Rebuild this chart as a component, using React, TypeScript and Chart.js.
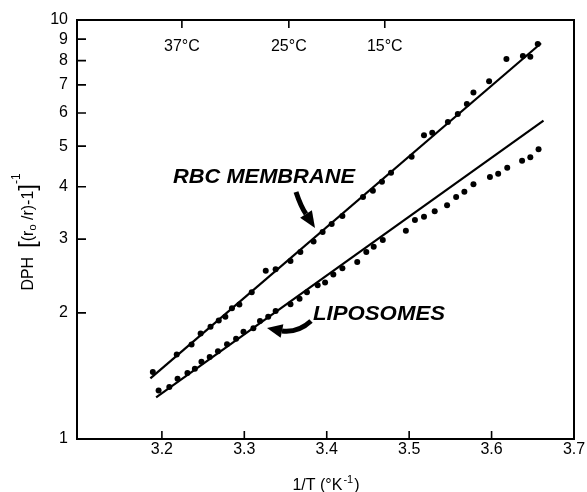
import React, { useEffect, useRef } from "react";
import { Chart, registerables } from "chart.js";

Chart.register(...registerables);

// ---- data ----
const rbcX = [3.189, 3.218, 3.236, 3.247, 3.259, 3.269, 3.277, 3.285, 3.294, 3.309, 3.326, 3.338, 3.356, 3.368, 3.384, 3.395, 3.406, 3.419, 3.444, 3.456, 3.467, 3.478, 3.503, 3.518, 3.528, 3.547, 3.559, 3.570, 3.578, 3.597, 3.618, 3.638, 3.647, 3.656];
const rbcY = [1.445, 1.591, 1.681, 1.786, 1.854, 1.918, 1.958, 2.051, 2.094, 2.239, 2.522, 2.541, 2.660, 2.795, 2.961, 3.119, 3.260, 3.406, 3.781, 3.914, 4.113, 4.322, 4.717, 5.306, 5.383, 5.709, 5.966, 6.303, 6.714, 7.144, 8.071, 8.206, 8.175, 8.762];

const lipoX = [3.196, 3.209, 3.219, 3.231, 3.240, 3.248, 3.258, 3.268, 3.279, 3.290, 3.299, 3.311, 3.319, 3.329, 3.338, 3.356, 3.367, 3.376, 3.389, 3.398, 3.408, 3.419, 3.437, 3.448, 3.457, 3.468, 3.496, 3.507, 3.518, 3.531, 3.546, 3.557, 3.567, 3.578, 3.598, 3.608, 3.619, 3.637, 3.647, 3.657];
const lipoY = [1.305, 1.331, 1.393, 1.437, 1.471, 1.529, 1.569, 1.620, 1.683, 1.734, 1.804, 1.838, 1.912, 1.958, 2.021, 2.097, 2.162, 2.240, 2.327, 2.363, 2.470, 2.555, 2.645, 2.795, 2.875, 2.985, 3.142, 3.332, 3.393, 3.495, 3.612, 3.781, 3.893, 4.055, 4.220, 4.295, 4.442, 4.615, 4.702, 4.916];

const rbcFitX = [3.186, 3.660];
const rbcFitY = [1.396, 8.80];
const lipoFitX = [3.193, 3.663];
const lipoFitY = [1.257, 5.75];

const xTicks = [3.2, 3.3, 3.4, 3.5, 3.6, 3.7];
const yTicks = [1, 2, 3, 4, 5, 6, 7, 8, 9, 10];
const tempC = [37, 25, 15];
const tempLabels = ["37°C", "25°C", "15°C"];
const seriesLabels = ["RBC MEMBRANE", "LIPOSOMES"];

const FONT = "Liberation Sans, Arial, sans-serif";

function drawArrow(ctx: CanvasRenderingContext2D, s: number[], c: number[], e: number[], tip: number[], w: number, hw: number) {
  ctx.save();
  ctx.strokeStyle = "#000";
  ctx.fillStyle = "#000";
  ctx.lineWidth = w;
  ctx.lineCap = "butt";
  ctx.beginPath();
  ctx.moveTo(s[0], s[1]);
  ctx.quadraticCurveTo(c[0], c[1], e[0], e[1]);
  ctx.stroke();
  const dx = tip[0] - e[0];
  const dy = tip[1] - e[1];
  const len = Math.hypot(dx, dy);
  const nx = -dy / len;
  const ny = dx / len;
  ctx.beginPath();
  ctx.moveTo(tip[0], tip[1]);
  ctx.lineTo(e[0] + nx * hw, e[1] + ny * hw);
  ctx.lineTo(e[0] - nx * hw, e[1] - ny * hw);
  ctx.closePath();
  ctx.fill();
  ctx.restore();
}

function fitText(ctx: CanvasRenderingContext2D, text: string, x: number, baseline: number, width: number, font: string) {
  ctx.save();
  ctx.font = font;
  const w = ctx.measureText(text).width;
  ctx.translate(x, baseline);
  ctx.transform(width / w, 0, 0, 1, 0, 0);
  ctx.textAlign = "left";
  ctx.textBaseline = "alphabetic";
  ctx.fillText(text, 0, 0);
  ctx.restore();
}

const decorPlugin = {
  id: "decor",
  afterDraw(chart: any) {
    const ctx: CanvasRenderingContext2D = chart.ctx;
    const { left, right, top, bottom } = chart.chartArea;
    const xs = chart.scales.x;
    const ys = chart.scales.y;
    ctx.save();
    ctx.strokeStyle = "#000";
    ctx.fillStyle = "#000";
    // frame
    ctx.lineWidth = 2;
    ctx.strokeRect(left, top, right - left, bottom - top);
    // inward ticks
    ctx.lineWidth = 1.6;
    ctx.beginPath();
    for (const v of yTicks) {
      if (v === 1 || v === 10) continue;
      const y = ys.getPixelForValue(v);
      ctx.moveTo(left, y);
      ctx.lineTo(left + 9, y);
    }
    for (const v of xTicks) {
      if (v === 3.7) continue;
      const x = xs.getPixelForValue(v);
      ctx.moveTo(x, bottom);
      ctx.lineTo(x, bottom - 8);
    }
    // temperature ticks on top
    tempC.forEach((t) => {
      const x = xs.getPixelForValue(1000 / (t + 273.15));
      ctx.moveTo(x, top);
      ctx.lineTo(x, top + 8);
    });
    ctx.stroke();
    ctx.font = "16px " + FONT;
    ctx.textAlign = "center";
    ctx.textBaseline = "middle";
    tempC.forEach((t, i) => {
      const x = xs.getPixelForValue(1000 / (t + 273.15));
      ctx.fillText(tempLabels[i], x, top + 27);
    });

    // series labels
    fitText(ctx, seriesLabels[0], 173, 183, 182, "bold italic 20px " + FONT);
    fitText(ctx, seriesLabels[1], 313, 320, 132, "bold italic 20px " + FONT);

    // arrows
    drawArrow(ctx, [296, 192], [301, 207], [306, 214], [315, 228], 5, 7);
    drawArrow(ctx, [311, 321], [298, 333], [282, 331], [267, 328], 5, 7);

    // x axis title
    ctx.textAlign = "left";
    ctx.textBaseline = "alphabetic";
    const p1 = "1/T (°K";
    const p2 = "-1";
    const p3 = ")";
    ctx.font = "16px " + FONT;
    const w1 = ctx.measureText(p1).width;
    const w3 = ctx.measureText(p3).width;
    ctx.font = "11px " + FONT;
    const w2 = ctx.measureText(p2).width;
    const total = w1 + w2 + w3 + 2;
    const x0 = 326 - total / 2;
    const by = 490;
    ctx.font = "16px " + FONT;
    ctx.fillText(p1, x0, by);
    ctx.font = "11px " + FONT;
    ctx.fillText(p2, x0 + w1 + 1, by - 7);
    ctx.font = "16px " + FONT;
    ctx.fillText(p3, x0 + w1 + w2 + 2, by);

    // y axis title (rotated)
    ctx.save();
    ctx.translate(33, 232);
    ctx.rotate(-Math.PI / 2);
    const parts: [string, string, number][] = [
      ["DPH", "16px", 0],
      ["  ", "16px", 0],
      ["[", "24px", 2],
      ["(r", "16px", 0],
      ["o", "11px", 3],
      [" /r)-1", "16px", 0],
      ["]", "24px", 2],
      ["-1", "12px", -13],
    ];
    let tw = 0;
    const widths: number[] = [];
    for (const [t, sz] of parts) {
      ctx.font = sz + " " + FONT;
      const w = ctx.measureText(t).width;
      widths.push(w);
      tw += w;
    }
    let cx = -tw / 2;
    parts.forEach(([t, sz, off], i) => {
      ctx.font = sz + " " + FONT;
      ctx.fillText(t, cx, off);
      cx += widths[i];
    });
    ctx.restore();

    ctx.restore();
  },
};

export default function App() {
  const ref = useRef<HTMLCanvasElement | null>(null);
  useEffect(() => {
    if (!ref.current) return;
    const pts = (xs: number[], ys: number[]) => xs.map((x, i) => ({ x, y: ys[i] }));
    const chart = new Chart(ref.current, {
      type: "scatter",
      data: {
        datasets: [
          { label: "RBC membrane", data: pts(rbcX, rbcY), pointRadius: 3, pointBackgroundColor: "#000", pointBorderWidth: 0, showLine: false },
          { label: "RBC fit", data: pts(rbcFitX, rbcFitY), pointRadius: 0, showLine: true, borderColor: "#000", borderWidth: 2.2 },
          { label: "Liposomes", data: pts(lipoX, lipoY), pointRadius: 3, pointBackgroundColor: "#000", pointBorderWidth: 0, showLine: false },
          { label: "Liposome fit", data: pts(lipoFitX, lipoFitY), pointRadius: 0, showLine: true, borderColor: "#000", borderWidth: 2.2 },
        ],
      },
      options: {
        animation: false,
        responsive: false,
        maintainAspectRatio: false,
        layout: { padding: { top: 20, right: 13, left: 0, bottom: 0 } },
        plugins: { legend: { display: false }, tooltip: { enabled: false } },
        scales: {
          x: {
            type: "linear",
            min: 3.097,
            max: 3.7,
            afterBuildTicks: (s: any) => {
              s.ticks = xTicks.map((v) => ({ value: v }));
            },
            afterFit: (s: any) => {
              s.height = 53;
            },
            grid: { display: false, drawTicks: false },
            border: { display: false },
            ticks: {
              color: "#000",
              font: { size: 16, family: FONT },
              padding: 1,
              maxRotation: 0,
              callback: (v: any) => Number(v).toFixed(1),
            },
          },
          y: {
            type: "logarithmic",
            min: 1,
            max: 10,
            afterBuildTicks: (s: any) => {
              s.ticks = yTicks.map((v) => ({ value: v }));
            },
            afterFit: (s: any) => {
              s.width = 77;
            },
            grid: { display: false, drawTicks: false },
            border: { display: false },
            ticks: {
              color: "#000",
              font: { size: 16, family: FONT },
              padding: 9,
              autoSkip: false,
              callback: (v: any) => String(v),
            },
          },
        },
      },
      plugins: [decorPlugin],
    } as any);
    return () => chart.destroy();
  }, []);
  return (
    <div style={{ position: "fixed", left: 0, top: 0, width: 587, height: 492, background: "#fff" }}>
      <canvas ref={ref} width={587} height={492} style={{ display: "block", width: 587, height: 492 }} />
    </div>
  );
}
